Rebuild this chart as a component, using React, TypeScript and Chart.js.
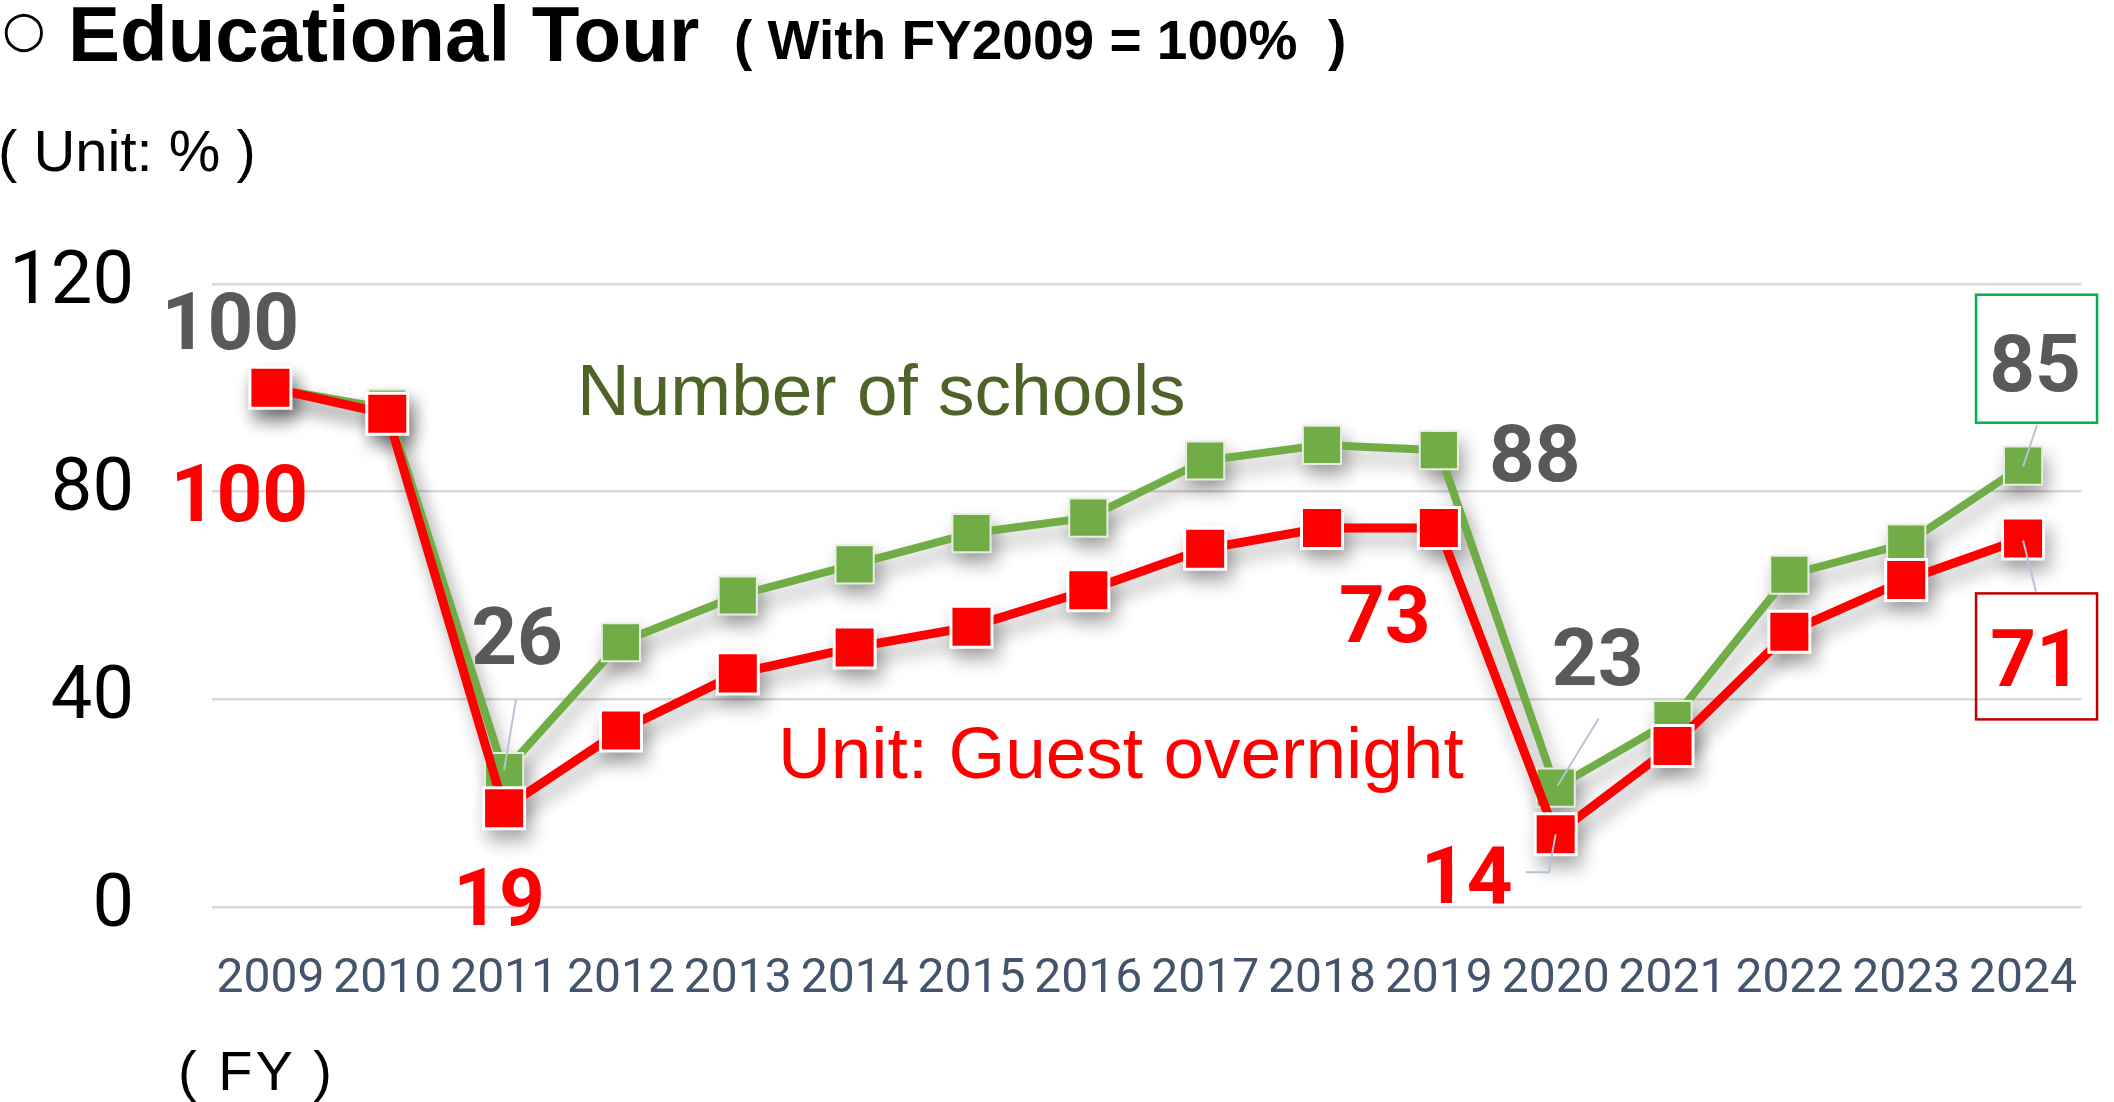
import { useEffect, useRef } from 'react';
import { Chart, registerables } from 'chart.js';

Chart.register(...registerables);

// data (FY2009 = 100)
const years = ['2009', '2010', '2011', '2012', '2013', '2014', '2015', '2016', '2017', '2018', '2019', '2020', '2021', '2022', '2023', '2024'];
const guests = [100, 95, 19, 34, 45, 50, 54, 61, 69, 73, 73, 14, 31, 53, 63, 71];
const schools = [100, 96, 26, 51, 60, 66, 72, 75, 86, 89, 88, 23, 36, 64, 70, 85];
const yTicks = [0, 40, 80, 120];

// which points carry a value label (dataset 0 = guests, 1 = schools), offsets from the point
const valueLabels = [
  { ds: 1, i: 0, dx: -40, dy: -67 },
  { ds: 0, i: 0, dx: -31, dy: 105 },
  { ds: 1, i: 2, dx: 13, dy: -136 },
  { ds: 0, i: 2, dx: -5, dy: 89 },
  { ds: 1, i: 10, dx: 96, dy: 3 },
  { ds: 0, i: 10, dx: -54, dy: 86 },
  { ds: 1, i: 11, dx: 42, dy: -131 },
  { ds: 0, i: 11, dx: -89, dy: 41 },
  { ds: 1, i: 15, dx: 12, dy: -103 },
  { ds: 0, i: 15, dx: 13, dy: 120 },
];

const leaders = [
  { ds: 1, i: 2, pts: [[12, -73], [0, -2]] },
  { ds: 1, i: 11, pts: [[43, -69], [2, -2]] },
  { ds: 0, i: 11, pts: [[0, 0], [-7, 38], [-30, 38]] },
  { ds: 1, i: 15, pts: [[14, -41], [0, 1]] },
  { ds: 0, i: 15, pts: [[0, 2], [13, 53]] },
];

const boxes = [
  { ds: 1, i: 15, l: -47, r: 74, t: -171, b: -43, color: '#00B050' },
  { ds: 0, i: 15, l: -47, r: 74, t: 55, b: 181, color: '#C00000' },
];

const labelColors = ['#FF0000', '#595959'];

const shadowPlugin = {
  id: 'shadows',
  beforeDatasetsDraw(chart: any) {
    const ctx = chart.ctx;
    const off = 10000;
    ctx.save();
    ctx.shadowColor = 'rgba(0,0,0,0.33)';
    ctx.shadowBlur = 18;
    ctx.shadowOffsetX = off + 5;
    ctx.shadowOffsetY = 11;
    ctx.fillStyle = '#000';
    ctx.strokeStyle = '#000';
    ctx.lineJoin = 'round';
    chart.data.datasets.forEach((ds: any, k: number) => {
      const pts = chart.getDatasetMeta(k).data;
      ctx.lineWidth = ds.borderWidth;
      ctx.beginPath();
      pts.forEach((p: any, j: number) => (j ? ctx.lineTo(p.x - off, p.y) : ctx.moveTo(p.x - off, p.y)));
      ctx.stroke();
      const s = ds.pointRadius * Math.SQRT1_2 + ds.pointBorderWidth / 2;
      pts.forEach((p: any) => ctx.fillRect(p.x - off - s, p.y - s, 2 * s, 2 * s));
    });
    ctx.restore();
  },
};

const notesPlugin = {
  id: 'notes',
  afterDatasetsDraw(chart: any) {
    const ctx = chart.ctx;
    const pt = (ds: number, i: number) => chart.getDatasetMeta(ds).data[i];
    ctx.save();
    ctx.strokeStyle = '#B7C3D6';
    ctx.lineWidth = 2;
    leaders.forEach((ld) => {
      const p = pt(ld.ds, ld.i);
      ctx.beginPath();
      ld.pts.forEach(([x, y], j) => (j ? ctx.lineTo(p.x + x, p.y + y) : ctx.moveTo(p.x + x, p.y + y)));
      ctx.stroke();
    });
    ctx.lineWidth = 2.5;
    boxes.forEach((b) => {
      const p = pt(b.ds, b.i);
      ctx.strokeStyle = b.color;
      ctx.strokeRect(p.x + b.l, p.y + b.t, b.r - b.l, b.b - b.t);
    });
    ctx.font = 'bold 80px Roboto';
    ctx.textAlign = 'center';
    ctx.textBaseline = 'alphabetic';
    valueLabels.forEach((v) => {
      const p = pt(v.ds, v.i);
      const value = chart.data.datasets[v.ds].data[v.i];
      ctx.fillStyle = labelColors[v.ds];
      ctx.fillText(String(value), p.x + v.dx, p.y + v.dy + 28);
    });
    ctx.restore();
  },
};

function Txt(props: { left: number; base: number; size: number; bold?: boolean; color?: string; family?: string; spacing?: number; children: any }) {
  const { left, base, size, bold, color, family, spacing, children } = props;
  return (
    <div
      style={{
        position: 'absolute',
        left,
        top: base - 0.8465 * size,
        fontSize: size,
        lineHeight: `${size}px`,
        fontWeight: bold ? 700 : 400,
        color: color || '#000',
        fontFamily: family || '"Liberation Sans", Arial, sans-serif',
        letterSpacing: spacing || 0,
        whiteSpace: 'pre',
      }}
    >
      {children}
    </div>
  );
}

export default function App() {
  const canvasRef = useRef<HTMLCanvasElement>(null);

  useEffect(() => {
    if (!canvasRef.current) return;
    const chart = new Chart(canvasRef.current, {
      type: 'line',
      data: {
        labels: years,
        datasets: [
          {
            label: 'Unit: Guest overnight',
            data: guests,
            borderColor: '#FF0000',
            backgroundColor: '#FF0000',
            borderWidth: 9,
            pointStyle: 'rect',
            pointRadius: 29,
            pointBackgroundColor: '#FF0000',
            pointBorderColor: '#FFFFFF',
            pointBorderWidth: 3,
            tension: 0,
            order: 1,
            clip: false,
          } as any,
          {
            label: 'Number of schools',
            data: schools,
            borderColor: '#70AD47',
            backgroundColor: '#70AD47',
            borderWidth: 8,
            pointStyle: 'rect',
            pointRadius: 27,
            pointBackgroundColor: '#70AD47',
            pointBorderColor: '#E6EEDF',
            pointBorderWidth: 2,
            tension: 0,
            order: 2,
            clip: false,
          } as any,
        ],
      },
      options: {
        animation: false,
        responsive: true,
        maintainAspectRatio: false,
        devicePixelRatio: 1,
        layout: { padding: { top: 284, right: 28, bottom: 95, left: 0 } },
        plugins: {
          legend: { display: false },
          tooltip: { enabled: false },
        },
        scales: {
          x: {
            offset: true,
            grid: { display: false, offset: true },
            border: { display: false },
            ticks: {
              color: '#44546A',
              font: { family: 'Roboto', size: 48 },
              padding: 36,
              maxRotation: 0,
              autoSkip: false,
            },
            afterFit: (s: any) => {
              s.height = 100;
            },
          },
          y: {
            min: 0,
            max: 120,
            afterBuildTicks: (s: any) => {
              s.ticks = yTicks.map((v) => ({ value: v }));
            },
            grid: { color: '#D9D9D9', lineWidth: 2.5, drawTicks: false },
            border: { display: false },
            ticks: {
              color: '#000000',
              font: { family: 'Roboto', size: 74 },
              padding: 78,
            },
            afterFit: (s: any) => {
              s.width = 212;
            },
          },
        },
      },
      plugins: [shadowPlugin, notesPlugin],
    });
    return () => chart.destroy();
  }, []);

  return (
    <div style={{ position: 'absolute', left: 0, top: 0, width: 2114, height: 1102, background: '#fff', overflow: 'hidden' }}>
      <div style={{ position: 'absolute', left: 0, top: 0, width: 2114, height: 1102 }}>
        <canvas ref={canvasRef} />
      </div>
      <Txt left={2} base={46} size={50} family='"DejaVu Sans", sans-serif'>○</Txt>
      <Txt left={68} base={61} size={78} bold>Educational Tour</Txt>
      <Txt left={734} base={60} size={55} bold>( With FY2009 = 100%  )</Txt>
      <Txt left={-2} base={171} size={58}>( Unit: % )</Txt>
      <Txt left={577} base={415} size={73} color="#4F6228">Number of schools</Txt>
      <Txt left={778} base={778} size={73} color="#FF0000">Unit: Guest overnight</Txt>
      <Txt left={178} base={1090} size={56} spacing={3}>( FY )</Txt>
    </div>
  );
}
